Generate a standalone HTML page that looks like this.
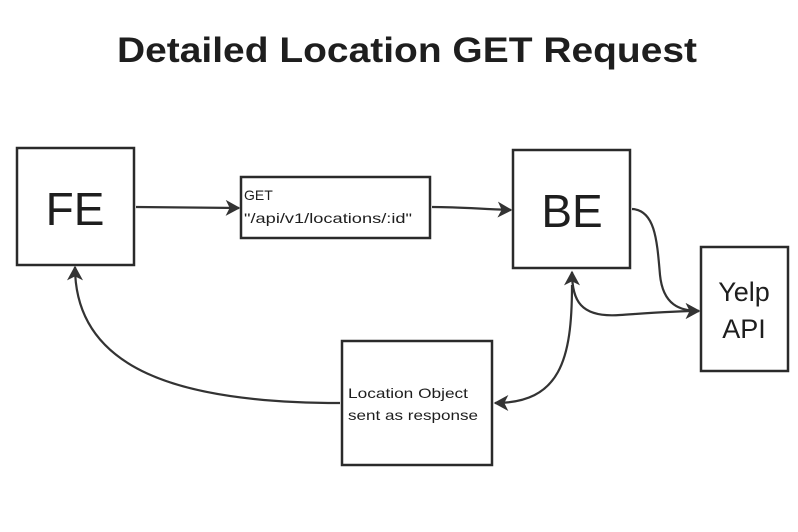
<!DOCTYPE html>
<html><head><meta charset="utf-8"><style>
html,body{margin:0;padding:0;background:#fff;width:798px;height:532px;overflow:hidden}
svg{display:block}
text{font-family:"Liberation Sans","DejaVu Sans",sans-serif;fill:#1e1e1e}
</style></head><body>
<svg width="798" height="532" viewBox="0 0 798 532" xmlns="http://www.w3.org/2000/svg">
<defs>
<marker id="a" viewBox="0 0 12 12" refX="10" refY="6" markerWidth="16" markerHeight="16" markerUnits="userSpaceOnUse" orient="auto-start-reverse">
<path d="M0,0 L11,6 L0,12 L3,6 Z" fill="#333"/>
</marker>
</defs>
<text x="407" y="62" text-anchor="middle" font-size="35" font-weight="bold" textLength="580" lengthAdjust="spacingAndGlyphs">Detailed Location GET Request</text>
<g fill="#fff" stroke="#2a2a2a" stroke-width="2.5">
<rect x="17" y="148" width="117" height="117"/>
<rect x="241" y="177" width="189" height="61"/>
<rect x="513" y="150" width="117" height="118"/>
<rect x="701" y="247" width="87" height="124"/>
<rect x="342" y="341" width="150" height="124"/>
</g>
<text x="75" y="225" text-anchor="middle" font-size="46">FE</text>
<text x="572" y="227" text-anchor="middle" font-size="46">BE</text>
<text x="744" y="301" text-anchor="middle" font-size="27">Yelp</text>
<text x="744" y="338" text-anchor="middle" font-size="27">API</text>
<text x="244" y="200" font-size="14">GET</text>
<text x="244" y="223" font-size="14" textLength="168" lengthAdjust="spacingAndGlyphs">"/api/v1/locations/:id"</text>
<text x="348" y="398" font-size="14" textLength="120" lengthAdjust="spacingAndGlyphs">Location Object</text>
<text x="348" y="420" font-size="14" textLength="130" lengthAdjust="spacingAndGlyphs">sent as response</text>
<g fill="none" stroke="#333" stroke-width="2.2">
<path d="M136,207 L239,208" marker-end="url(#a)"/>
<path d="M432,207 C460,207 480,209 511,210" marker-end="url(#a)"/>
<path d="M632,209 C655,210 657,240 660,275 C663,305 680,311 699,311" marker-end="url(#a)"/>
<path d="M572,272 C572,300 580,318 620,315 C650,313 675,311 699,311" marker-start="url(#a)" marker-end="url(#a)"/>
<path d="M572,285 C572,360 560,403 495,403" marker-end="url(#a)"/>
<path d="M340,403 C180,403 75,370 75,267" marker-end="url(#a)"/>
</g>
</svg>
</body></html>
